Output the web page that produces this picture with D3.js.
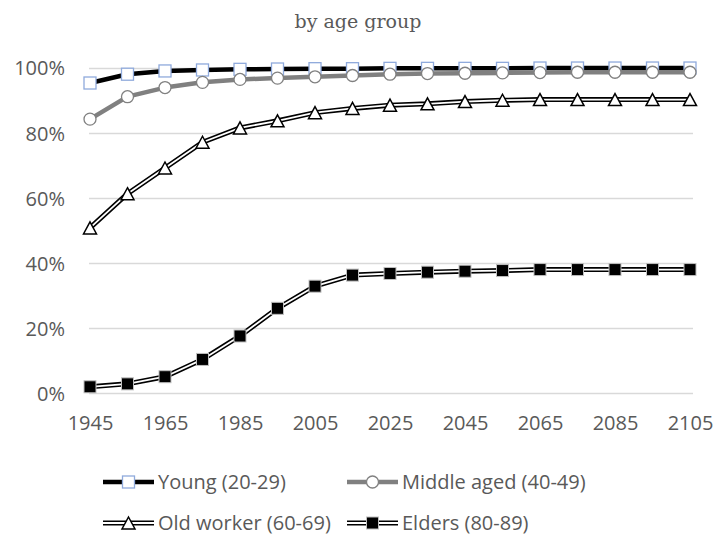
<!DOCTYPE html>
<html>
<head>
<meta charset="utf-8">
<script src="https://cdn.jsdelivr.net/npm/d3@7"></script>
<style>
  body { margin: 0; background: #fff; }
  svg { display: block; }
</style>
</head>
<body>
<svg id="chart" width="717" height="536"></svg>
<script>
// Share of each age group, percent, by decade
const years = [1945, 1955, 1965, 1975, 1985, 1995, 2005, 2015, 2025, 2035, 2045, 2055, 2065, 2075, 2085, 2095, 2105];
const xTickLabels = [1945, 1965, 1985, 2005, 2025, 2045, 2065, 2085, 2105];
const yTicks = [0, 20, 40, 60, 80, 100];
const seriesNames = ["Young (20-29)", "Middle aged (40-49)", "Old worker (60-69)", "Elders (80-89)"];
const young   = [95.3, 98.0, 99.0, 99.3, 99.5, 99.6, 99.7, 99.7, 99.8, 99.8, 99.8, 99.8, 99.9, 99.9, 99.9, 99.9, 99.9];
const middle  = [84.2, 91.1, 93.9, 95.5, 96.4, 96.8, 97.2, 97.6, 98.0, 98.2, 98.3, 98.4, 98.5, 98.6, 98.6, 98.6, 98.6];
const oldWork = [50.8, 61.3, 69.2, 77.1, 81.5, 83.7, 86.2, 87.5, 88.5, 88.9, 89.6, 90.0, 90.2, 90.2, 90.2, 90.2, 90.2];
const elders  = [2.0, 2.9, 5.1, 10.4, 17.6, 26.1, 32.9, 36.3, 36.8, 37.2, 37.5, 37.7, 38.0, 38.0, 38.0, 38.0, 38.0];

const svg = d3.select("#chart");
const textColor = "#595959";
const sansFont = "'Open Sans', sans-serif";

const x = d3.scalePoint().domain(years).range([90, 690]);
const y = d3.scaleLinear().domain([0, 100]).range([393.3, 67.7]);

// Title
svg.append("text")
  .attr("x", 358).attr("y", 28)
  .attr("text-anchor", "middle")
  .attr("font-family", "'DejaVu Serif', serif")
  .attr("font-size", 19)
  .attr("fill", textColor)
  .text("by age group");

// Horizontal gridlines
svg.append("g")
  .selectAll("line")
  .data(yTicks)
  .join("line")
  .attr("x1", 89).attr("x2", 693)
  .attr("y1", d => Math.round(y(d)) + 0.5)
  .attr("y2", d => Math.round(y(d)) + 0.5)
  .attr("stroke", "#d9d9d9")
  .attr("stroke-width", 1.3);

// Y axis labels
const yAxis = d3.axisLeft(y).tickValues(yTicks).tickFormat(d => d + "%").tickSize(0).tickPadding(0);
const yg = svg.append("g").attr("transform", "translate(65,0)").call(yAxis);
yg.select(".domain").remove();
yg.selectAll("text")
  .attr("font-family", sansFont).attr("font-size", 20).attr("fill", textColor)
  .attr("dy", "0.36em");

// X axis labels
const xAxis = d3.axisBottom(x).tickValues(xTickLabels).tickSize(0).tickPadding(0);
const xg = svg.append("g").attr("transform", "translate(0,430)").call(xAxis);
xg.select(".domain").remove();
xg.selectAll("text")
  .attr("font-family", sansFont).attr("font-size", 20).attr("fill", textColor)
  .attr("dy", 0);

// Triangle marker: 13 wide, 12 tall, centred on its box
const boxTriangle = {
  draw(ctx) {
    ctx.moveTo(0, -6);
    ctx.lineTo(6.5, 6);
    ctx.lineTo(-6.5, 6);
    ctx.closePath();
  }
};

const styles = [
  { values: young, line: [{ c: "#000", w: 4.5 }],
    marker: { type: "square", fill: "#fff", stroke: "#8faadc", sw: 1.3 } },
  { values: middle, line: [{ c: "#808080", w: 4.5 }],
    marker: { type: "circle", fill: "#fff", stroke: "#808080", sw: 1.3 } },
  { values: oldWork, line: [{ c: "#000", w: 5 }, { c: "#fff", w: 1.8 }],
    marker: { type: "triangle", fill: "#fff", stroke: "#000", sw: 1.5 } },
  { values: elders, line: [{ c: "#000", w: 5 }, { c: "#fff", w: 1.8 }],
    marker: { type: "square", fill: "#000", stroke: "#bfbfbf", sw: 1 } }
];

function drawMarker(g, m, cx, cy) {
  if (m.type === "square") {
    g.append("rect")
      .attr("x", cx - 6).attr("y", cy - 6).attr("width", 12).attr("height", 12)
      .attr("fill", m.fill).attr("stroke", m.stroke).attr("stroke-width", m.sw);
  } else if (m.type === "circle") {
    g.append("circle")
      .attr("cx", cx).attr("cy", cy).attr("r", 6)
      .attr("fill", m.fill).attr("stroke", m.stroke).attr("stroke-width", m.sw);
  } else {
    g.append("path")
      .attr("transform", `translate(${cx},${cy})`)
      .attr("d", d3.symbol().type(boxTriangle)())
      .attr("fill", m.fill).attr("stroke", m.stroke).attr("stroke-width", m.sw)
      .attr("stroke-linejoin", "miter");
  }
}

const lineGen = d3.line().x((d, i) => x(years[i])).y(d => y(d));

// Each series: line first, then its markers on top
styles.forEach(s => {
  const g = svg.append("g");
  s.line.forEach(l => {
    g.append("path")
      .attr("d", lineGen(s.values))
      .attr("fill", "none")
      .attr("stroke", l.c).attr("stroke-width", l.w)
      .attr("stroke-linejoin", "round");
  });
  s.values.forEach((v, i) => drawMarker(g, s.marker, x(years[i]), y(v)));
});

// Legend, two rows of two entries
const legendPos = [
  { x: 103, y: 482 }, { x: 347, y: 482 },
  { x: 103, y: 523 }, { x: 347, y: 523 }
];
styles.forEach((s, i) => {
  const p = legendPos[i];
  const g = svg.append("g");
  s.line.forEach(l => {
    g.append("line")
      .attr("x1", p.x).attr("x2", p.x + 51)
      .attr("y1", p.y).attr("y2", p.y)
      .attr("stroke", l.c).attr("stroke-width", l.w);
  });
  drawMarker(g, s.marker, p.x + 25.5, p.y);
  g.append("text")
    .attr("x", p.x + 55).attr("y", p.y + 7)
    .attr("font-family", sansFont).attr("font-size", 20).attr("fill", textColor)
    .text(seriesNames[i]);
});
</script>
</body>
</html>
